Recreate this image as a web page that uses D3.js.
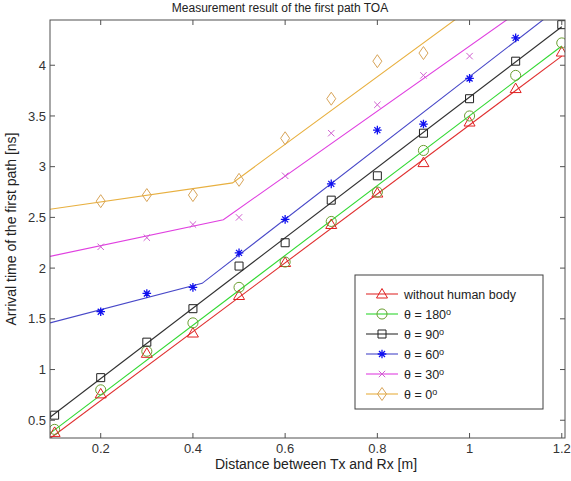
<!DOCTYPE html>
<html>
<head>
<meta charset="utf-8">
<script src="https://cdn.jsdelivr.net/npm/d3@7"></script>
<style>
  body { margin: 0; background: #fff; }
  svg { font-family: "Liberation Sans", Arial, sans-serif; }
</style>
</head>
<body>
<div id="chart"></div>
<script>
const distances = [0.1, 0.2, 0.3, 0.4, 0.5, 0.6, 0.7, 0.8, 0.9, 1.0, 1.1, 1.2];
const xTicks = [0.2, 0.4, 0.6, 0.8, 1, 1.2];
const yTicks = [0.5, 1, 1.5, 2, 2.5, 3, 3.5, 4];

// measured points (ns), null = outside the plot
const noBody   = [0.38, 0.76, 1.16, 1.36, 1.73, 2.055, 2.43, 2.74, 3.04, 3.44, 3.77, 4.13];
const theta180 = [0.41, 0.80, 1.18, 1.46, 1.81, 2.06, 2.46, 2.75, 3.16, 3.50, 3.90, 4.22];
const theta90  = [0.55, 0.92, 1.27, 1.60, 2.02, 2.25, 2.67, 2.91, 3.33, 3.67, 4.04, 4.40];
const theta60  = [null, 1.57, 1.75, 1.81, 2.15, 2.48, 2.83, 3.36, 3.42, 3.87, 4.27, null];
const theta30  = [null, 2.21, 2.30, 2.43, 2.50, 2.91, 3.33, 3.61, 3.90, 4.09, null, null];
const theta0   = [null, 2.66, 2.72, 2.72, 2.87, 3.28, 3.67, 4.04, 4.12, null, null, null];

// fitted lines: [distance, ns] breakpoints
const fitNoBody   = [[0.09, 0.32], [1.2, 4.09]];
const fitTheta180 = [[0.09, 0.37], [1.2, 4.19]];
const fitTheta90  = [[0.09, 0.53], [1.2, 4.38]];
const fitTheta60  = [[0.09, 1.46], [0.42, 1.85], [1.2, 4.59]];
const fitTheta30  = [[0.09, 2.115], [0.466, 2.477], [1.2, 4.83]];
const fitTheta0   = [[0.09, 2.58], [0.486, 2.84], [1.2, 5.22]];

const series = [
  { label: "without human body", deg: null, values: noBody,   fit: fitNoBody,   line: "#e03030", mark: "#e02020", shape: "triangle" },
  { label: "θ = 180",            deg: true, values: theta180, fit: fitTheta180, line: "#30d830", mark: "#6a9e30", shape: "circle" },
  { label: "θ = 90",             deg: true, values: theta90,  fit: fitTheta90,  line: "#303030", mark: "#202020", shape: "square" },
  { label: "θ = 60",             deg: true, values: theta60,  fit: fitTheta60,  line: "#4848c8", mark: "#1010f0", shape: "asterisk" },
  { label: "θ = 30",             deg: true, values: theta30,  fit: fitTheta30,  line: "#e040e0", mark: "#d060d0", shape: "x" },
  { label: "θ = 0",              deg: true, values: theta0,   fit: fitTheta0,   line: "#e8b040", mark: "#d8a458", shape: "diamond" }
];

const width = 571, height = 481;
const plot = { left: 50, right: 565, top: 20, bottom: 438 };

const x = d3.scaleLinear().domain([0.09, 1.207]).range([plot.left, plot.right]);
const y = d3.scaleLinear().domain([0.325, 4.446]).range([plot.bottom, plot.top]);

const svg = d3.select("#chart").append("svg")
  .attr("width", width)
  .attr("height", height);

svg.append("clipPath").attr("id", "clip")
  .append("rect")
  .attr("x", plot.left).attr("y", plot.top)
  .attr("width", plot.right - plot.left)
  .attr("height", plot.bottom - plot.top);

// marker paths
function markerPath(shape) {
  switch (shape) {
    case "triangle": return "M0,-5.5L5.5,4L-5.5,4Z";
    case "circle": return d3.symbol(d3.symbolCircle, 80)();
    case "square": return "M-4,-4H4V4H-4Z";
    case "asterisk": return "M-4.3,0H4.3M0,-4.3V4.3M-3,-3L3,3M-3,3L3,-3";
    case "x": return "M-3.2,-3.2L3.2,3.2M-3.2,3.2L3.2,-3.2";
    case "diamond": return "M0,-6.5L4.5,0L0,6.5L-4.5,0Z";
  }
}

const line = d3.line().x(d => x(d[0])).y(d => y(d[1]));

const plotG = svg.append("g").attr("clip-path", "url(#clip)");

series.forEach(s => {
  plotG.append("path")
    .attr("d", line(s.fit))
    .attr("fill", "none")
    .attr("stroke", s.line)
    .attr("stroke-width", 1.1);
});

series.forEach(s => {
  const pts = distances.map((d, i) => [d, s.values[i]]).filter(p => p[1] != null);
  plotG.selectAll(null)
    .data(pts)
    .enter()
    .append("path")
    .attr("transform", p => `translate(${x(p[0])},${y(p[1])})`)
    .attr("d", markerPath(s.shape))
    .attr("fill", "none")
    .attr("stroke", s.mark)
    .attr("stroke-width", s.shape === "asterisk" ? 1.3 : 1);
});

// axes box and inside ticks
const axisColor = "#505050";
svg.append("rect")
  .attr("x", plot.left).attr("y", plot.top)
  .attr("width", plot.right - plot.left)
  .attr("height", plot.bottom - plot.top)
  .attr("fill", "none")
  .attr("stroke", axisColor);

const tickLen = 5;
xTicks.forEach(t => {
  svg.append("line")
    .attr("x1", x(t)).attr("x2", x(t))
    .attr("y1", plot.bottom).attr("y2", plot.bottom - tickLen)
    .attr("stroke", axisColor);
  svg.append("line")
    .attr("x1", x(t)).attr("x2", x(t))
    .attr("y1", plot.top).attr("y2", plot.top + tickLen)
    .attr("stroke", axisColor);
  svg.append("text")
    .attr("x", x(t)).attr("y", plot.bottom + 15)
    .attr("text-anchor", "middle")
    .style("font-size", "13px")
    .attr("fill", "#333")
    .text(d3.format("")(t));
});

yTicks.forEach(t => {
  svg.append("line")
    .attr("x1", plot.left).attr("x2", plot.left + tickLen)
    .attr("y1", y(t)).attr("y2", y(t))
    .attr("stroke", axisColor);
  svg.append("line")
    .attr("x1", plot.right).attr("x2", plot.right - tickLen)
    .attr("y1", y(t)).attr("y2", y(t))
    .attr("stroke", axisColor);
  svg.append("text")
    .attr("x", plot.left - 4).attr("y", y(t))
    .attr("dy", "0.35em")
    .attr("text-anchor", "end")
    .style("font-size", "13px")
    .attr("fill", "#333")
    .text(d3.format("")(t));
});

// title and axis labels
svg.append("text")
  .attr("x", 280).attr("y", 12)
  .attr("text-anchor", "middle")
  .style("font-size", "12px")
  .attr("fill", "#222")
  .text("Measurement result of the first path TOA");

svg.append("text")
  .attr("x", 316).attr("y", 469)
  .attr("text-anchor", "middle")
  .style("font-size", "14px")
  .attr("fill", "#222")
  .text("Distance between Tx and Rx [m]");

svg.append("text")
  .attr("transform", `translate(16,${(plot.top + plot.bottom) / 2}) rotate(-90)`)
  .attr("text-anchor", "middle")
  .style("font-size", "14px")
  .attr("fill", "#222")
  .text("Arrival time of the first path [ns]");

// legend
const legend = svg.append("g");
legend.append("rect")
  .attr("x", 355).attr("y", 275)
  .attr("width", 188).attr("height", 134)
  .attr("fill", "#fff")
  .attr("stroke", "#404040");

series.forEach((s, i) => {
  const ly = 294 + i * 20;
  legend.append("line")
    .attr("x1", 366).attr("x2", 398)
    .attr("y1", ly).attr("y2", ly)
    .attr("stroke", s.line)
    .attr("stroke-width", 1.1);
  legend.append("path")
    .attr("transform", `translate(382,${ly})`)
    .attr("d", markerPath(s.shape))
    .attr("fill", "none")
    .attr("stroke", s.mark)
    .attr("stroke-width", s.shape === "asterisk" ? 1.3 : 1);
  const txt = legend.append("text")
    .attr("x", 404).attr("y", ly)
    .attr("dy", "0.38em")
    .style("font-size", "12.5px")
    .attr("fill", "#222")
    .text(s.label);
  if (s.deg) {
    txt.append("tspan")
      .attr("dy", "-0.45em")
      .style("font-size", "9px")
      .text("o");
  }
});
</script>
</body>
</html>
